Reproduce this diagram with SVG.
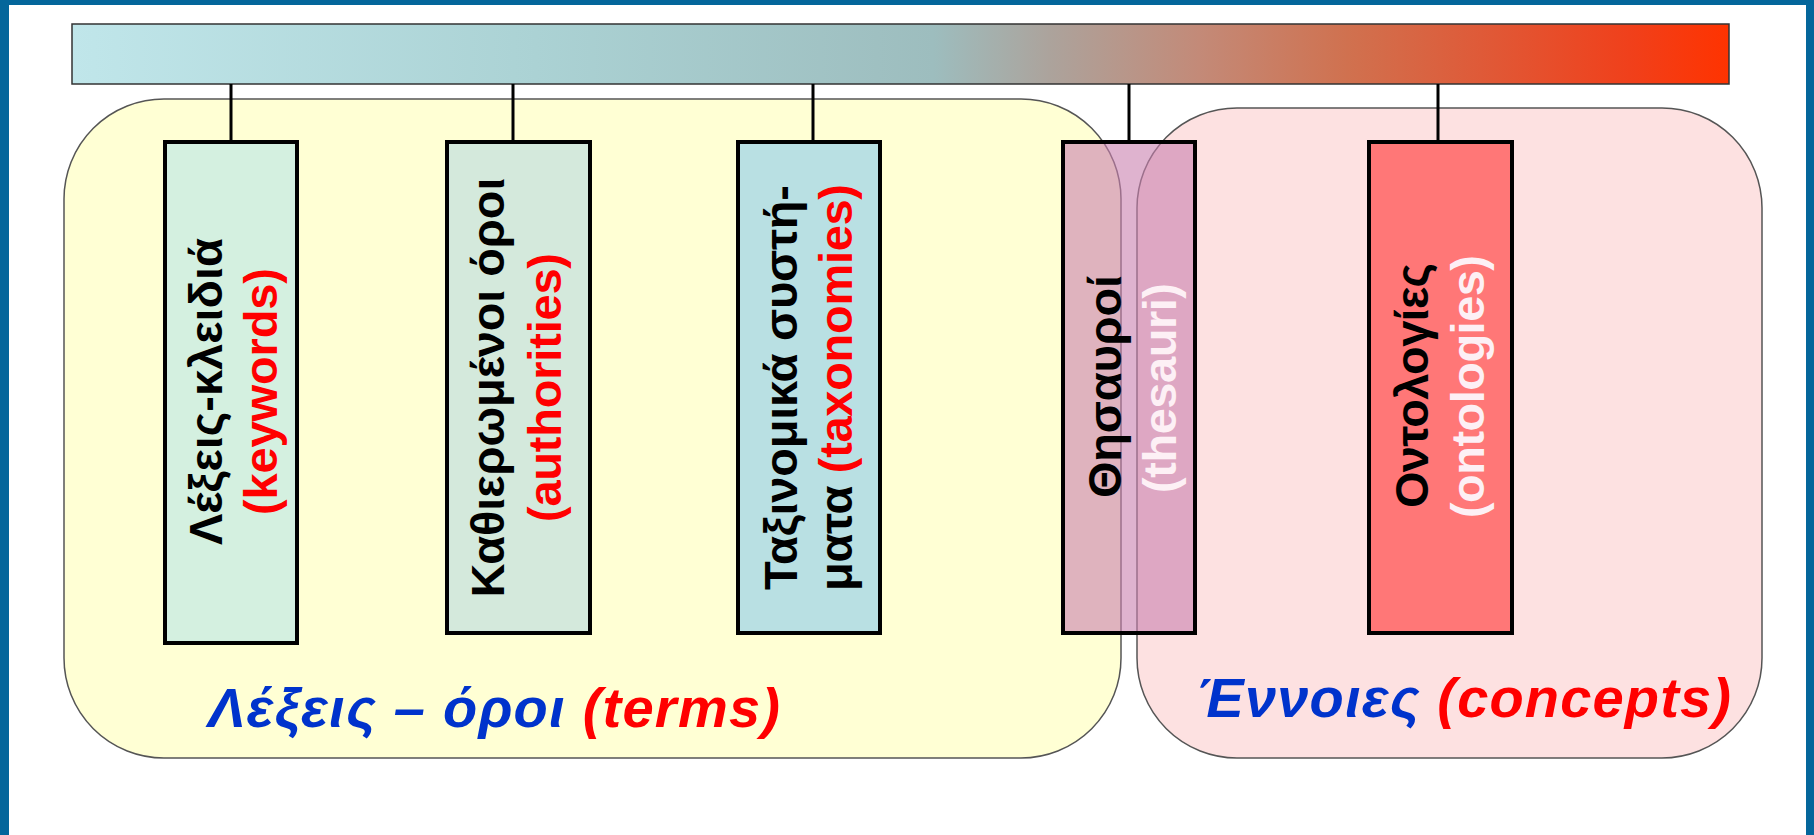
<svg xmlns="http://www.w3.org/2000/svg" width="1814" height="835" viewBox="0 0 1814 835">
<defs>
<linearGradient id="bar" x1="0" y1="0" x2="1" y2="0">
<stop offset="0" stop-color="#c0e6ea"/>
<stop offset="0.28" stop-color="#abd2d4"/>
<stop offset="0.52" stop-color="#9dbdbe"/>
<stop offset="0.59" stop-color="#aca39c"/>
<stop offset="0.68" stop-color="#c38a78"/>
<stop offset="0.77" stop-color="#d0714f"/>
<stop offset="0.85" stop-color="#df5a38"/>
<stop offset="0.94" stop-color="#f0401b"/>
<stop offset="1" stop-color="#ff3300"/>
</linearGradient>
<style>
.frame{fill:#04669b}
.cont{stroke:#555;stroke-width:1.5}
.box{stroke:#000;stroke-width:4}
.conn{stroke:#000;stroke-width:3;fill:none}
.bt{font-family:"Liberation Sans",Arial,sans-serif;font-weight:bold;font-size:47px;text-anchor:middle}
.blk{fill:#000}
.red{fill:#ff0000}
.wht{fill:#fdf0f5}
.lab{font-family:"Liberation Sans",Arial,sans-serif;font-weight:bold;font-style:italic;font-size:56px}
.blue{fill:#0033cc}
</style>
</defs>
<rect width="1814" height="835" fill="#ffffff"/>
<g id="frame">
<rect class="frame" x="0" y="0" width="1814" height="5"/>
<rect class="frame" x="0" y="0" width="9" height="835"/>
<rect class="frame" x="1806" y="0" width="8" height="835"/>
</g>
<g id="scale-bar">
<rect x="72" y="24" width="1657" height="60" fill="url(#bar)" stroke="#333" stroke-width="1.5"/>
</g>
<g id="terms-group">
<rect class="cont" x="64" y="99" width="1057" height="659" rx="100" ry="100" fill="#ffffd4"/>
<text class="lab" x="208" y="727" textLength="572"><tspan class="blue">Λέξεις – όροι </tspan><tspan class="red">(terms)</tspan></text>
</g>
<g id="concepts-group">
<rect class="cont" x="1137" y="108" width="625" height="650" rx="100" ry="100" fill="#fde1e1"/>
<text class="lab" x="1196" y="717" textLength="535"><tspan class="blue">Έννοιες </tspan><tspan class="red">(concepts)</tspan></text>
</g>
<g id="connectors">
<line class="conn" x1="231" y1="84" x2="231" y2="141"/>
<line class="conn" x1="513" y1="84" x2="513" y2="141"/>
<line class="conn" x1="813" y1="84" x2="813" y2="141"/>
<line class="conn" x1="1129" y1="84" x2="1129" y2="141"/>
<line class="conn" x1="1438" y1="84" x2="1438" y2="141"/>
</g>
<g id="keywords">
<rect class="box" x="165" y="142" width="132" height="501" fill="#d4f0e0"/>
<text class="bt blk" transform="translate(222,391.5) rotate(-90)" textLength="307">Λέξεις-κλειδιά</text>
<text class="bt red" transform="translate(277,391.5) rotate(-90)" textLength="247">(keywords)</text>
</g>
<g id="authorities">
<rect class="box" x="447" y="142" width="143" height="491" fill="#d4e9dc"/>
<text class="bt blk" transform="translate(504,387.5) rotate(-90)" textLength="420">Καθιερωμένοι όροι</text>
<text class="bt red" transform="translate(561,387.5) rotate(-90)" textLength="269">(authorities)</text>
</g>
<g id="taxonomies">
<rect class="box" x="738" y="142" width="142" height="491" fill="#b9e0e3"/>
<text class="bt blk" transform="translate(797,387.5) rotate(-90)" textLength="405">Ταξινομικά συστή-</text>
<text class="bt" transform="translate(852,387.5) rotate(-90)" textLength="407"><tspan class="blk">ματα </tspan><tspan class="red">(taxonomies)</tspan></text>
</g>
<g id="thesauri">
<rect class="box" x="1063" y="142" width="132" height="491" fill="#c980af" fill-opacity="0.6"/>
<text class="bt blk" transform="translate(1121,386.5) rotate(-90)" textLength="223">Θησαυροί</text>
<text class="bt wht" transform="translate(1176,388) rotate(-90)" textLength="210">(thesauri)</text>
</g>
<g id="ontologies">
<rect class="box" x="1369" y="142" width="143" height="491" fill="#ff7777"/>
<text class="bt blk" transform="translate(1428,385.5) rotate(-90)" textLength="245">Οντολογίες</text>
<text class="bt wht" transform="translate(1484,386.5) rotate(-90)" textLength="263">(ontologies)</text>
</g>
</svg>
